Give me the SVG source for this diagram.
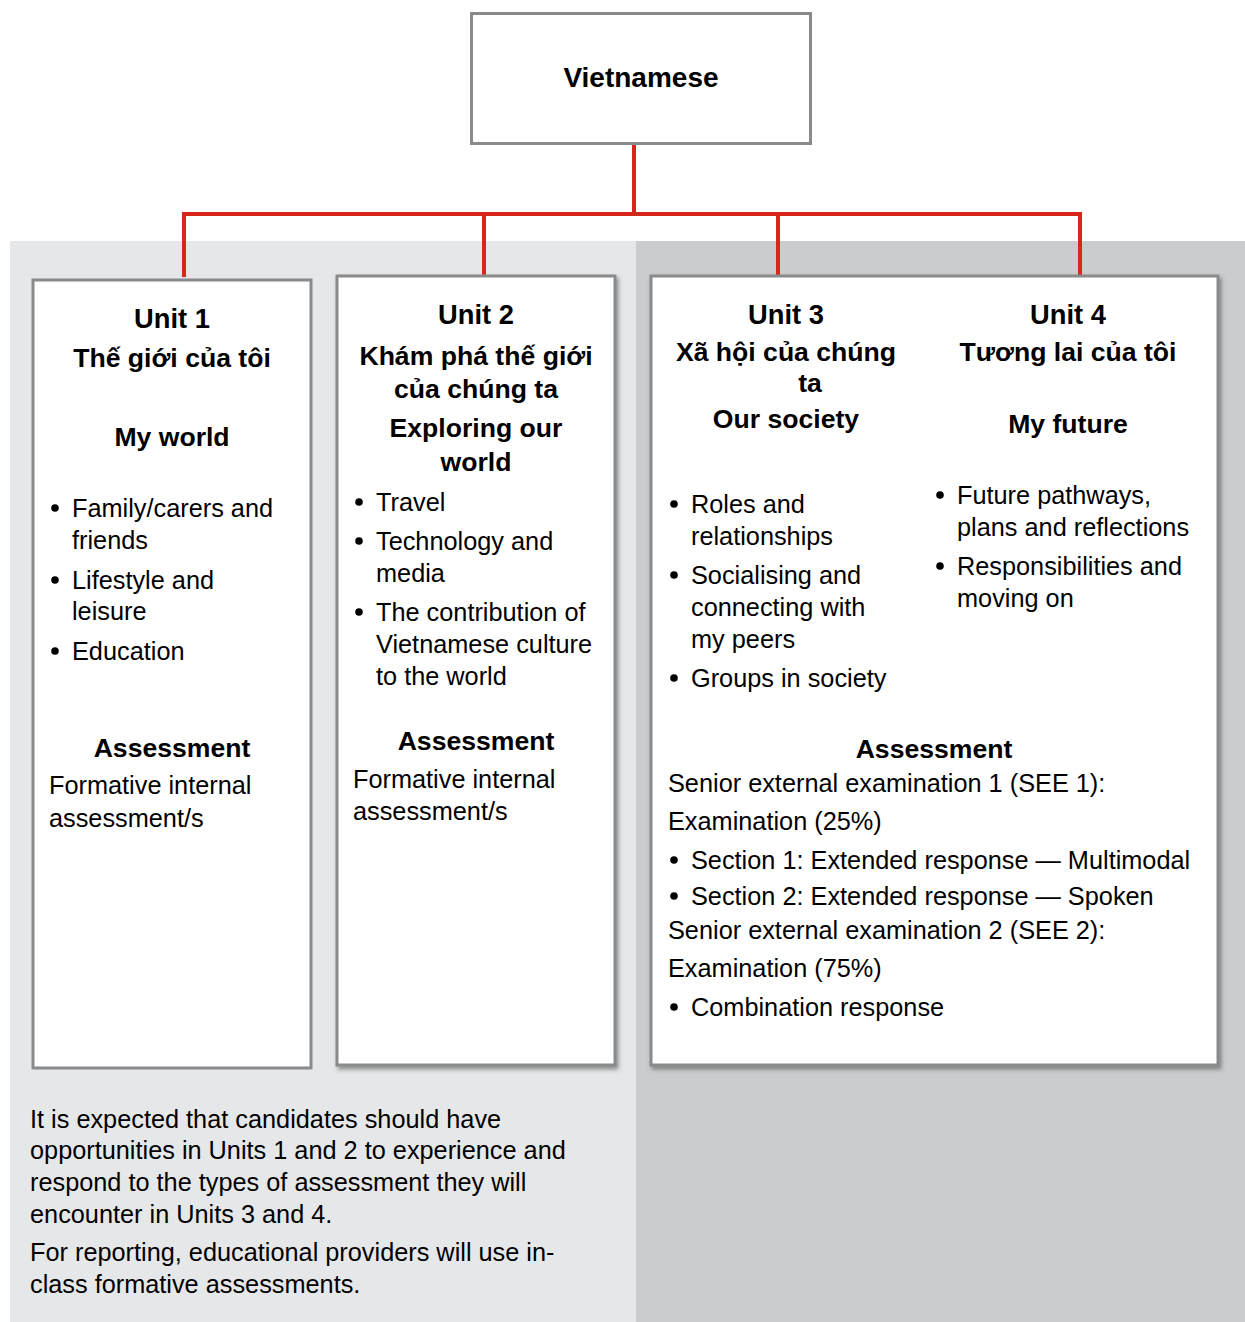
<svg xmlns="http://www.w3.org/2000/svg" width="1245" height="1322" viewBox="0 0 1245 1322">
<defs>
<filter id="shadow" x="-5%" y="-5%" width="110%" height="110%">
<feDropShadow dx="2" dy="3" stdDeviation="2" flood-color="#444" flood-opacity="0.55"/>
</filter>
</defs>
<style>
text{font-family:"Liberation Sans",Arial,sans-serif;font-size:25.3px;fill:#000}
.b{font-weight:bold;font-size:26.6px}
.u{font-size:27.3px}
.c{text-anchor:middle}
.box{fill:#fff;stroke:#898a8c;stroke-width:3}
.dot{fill:#000}
.con{stroke:#d9261c;stroke-width:4;fill:none}
</style>
<rect x="10" y="241" width="626" height="1081" fill="#e6e7e8"/>
<rect x="636" y="241" width="609" height="1081" fill="#cbcccd"/>
<g id="connectors">
<path class="con" d="M634 144V214M184 214H1080M184 212V277M484 212V276M778 212V276M1080 212V276"/>
</g>
<g id="vietnamese">
<rect class="box" x="471.5" y="13.5" width="339" height="130"/>
<text class="b c" x="641" y="87" style="font-size:28px">Vietnamese</text>
</g>
<g id="unit1">
<rect class="box" x="33" y="280" width="278" height="788" stroke-width="2.5"/>
<text class="b u c" x="172" y="328">Unit 1</text>
<text class="b c" x="172" y="367">Thế giới của tôi</text>
<text class="b c" x="172" y="446">My world</text>
<circle class="dot" cx="55" cy="508" r="3.8"/><text x="72" y="517">Family/carers and</text>
<text x="72" y="549">friends</text>
<circle class="dot" cx="55" cy="580" r="3.8"/><text x="72" y="589">Lifestyle and</text>
<text x="72" y="620">leisure</text>
<circle class="dot" cx="55" cy="651" r="3.8"/><text x="72" y="660">Education</text>
<text class="b c" x="172" y="757">Assessment</text>
<text x="49" y="794">Formative internal</text>
<text x="49" y="827">assessment/s</text>
</g>
<g id="unit2">
<rect class="box" x="337" y="276" width="278" height="789" filter="url(#shadow)"/>
<text class="b u c" x="476" y="324">Unit 2</text>
<text class="b c" x="476" y="365">Khám phá thế giới</text>
<text class="b c" x="476" y="398">của chúng ta</text>
<text class="b c" x="476" y="437">Exploring our</text>
<text class="b c" x="476" y="471">world</text>
<circle class="dot" cx="359" cy="502" r="3.8"/><text x="376" y="511">Travel</text>
<circle class="dot" cx="359" cy="541" r="3.8"/><text x="376" y="550">Technology and</text>
<text x="376" y="582">media</text>
<circle class="dot" cx="359" cy="612" r="3.8"/><text x="376" y="621">The contribution of</text>
<text x="376" y="653">Vietnamese culture</text>
<text x="376" y="685">to the world</text>
<text class="b c" x="476" y="750">Assessment</text>
<text x="353" y="788">Formative internal</text>
<text x="353" y="820">assessment/s</text>
</g>
<g id="unit3-4">
<rect class="box" x="651" y="276" width="567" height="789" filter="url(#shadow)"/>
<text class="b u c" x="786" y="324">Unit 3</text>
<text class="b c" x="786" y="361">Xã hội của chúng</text>
<text class="b c" x="810" y="392">ta</text>
<text class="b c" x="786" y="428">Our society</text>
<circle class="dot" cx="674" cy="504" r="3.8"/><text x="691" y="513">Roles and</text>
<text x="691" y="545">relationships</text>
<circle class="dot" cx="674" cy="575" r="3.8"/><text x="691" y="584">Socialising and</text>
<text x="691" y="616">connecting with</text>
<text x="691" y="648">my peers</text>
<circle class="dot" cx="674" cy="678" r="3.8"/><text x="691" y="687">Groups in society</text>
<text class="b u c" x="1068" y="324">Unit 4</text>
<text class="b c" x="1068" y="361">Tương lai của tôi</text>
<text class="b c" x="1068" y="433">My future</text>
<circle class="dot" cx="940" cy="495" r="3.8"/><text x="957" y="504">Future pathways,</text>
<text x="957" y="536">plans and reflections</text>
<circle class="dot" cx="940" cy="566" r="3.8"/><text x="957" y="575">Responsibilities and</text>
<text x="957" y="607">moving on</text>
<text class="b c" x="934" y="758">Assessment</text>
<text x="668" y="792">Senior external examination 1 (SEE 1):</text>
<text x="668" y="830">Examination (25%)</text>
<circle class="dot" cx="674" cy="860" r="3.8"/><text x="691" y="869">Section 1: Extended response — Multimodal</text>
<circle class="dot" cx="674" cy="896" r="3.8"/><text x="691" y="905">Section 2: Extended response — Spoken</text>
<text x="668" y="939">Senior external examination 2 (SEE 2):</text>
<text x="668" y="977">Examination (75%)</text>
<circle class="dot" cx="674" cy="1007" r="3.8"/><text x="691" y="1016">Combination response</text>
</g>
<g id="note">
<text x="30" y="1128">It is expected that candidates should have</text>
<text x="30" y="1159">opportunities in Units 1 and 2 to experience and</text>
<text x="30" y="1191">respond to the types of assessment they will</text>
<text x="30" y="1223">encounter in Units 3 and 4.</text>
<text x="30" y="1261">For reporting, educational providers will use in-</text>
<text x="30" y="1293">class formative assessments.</text>
</g>
</svg>
